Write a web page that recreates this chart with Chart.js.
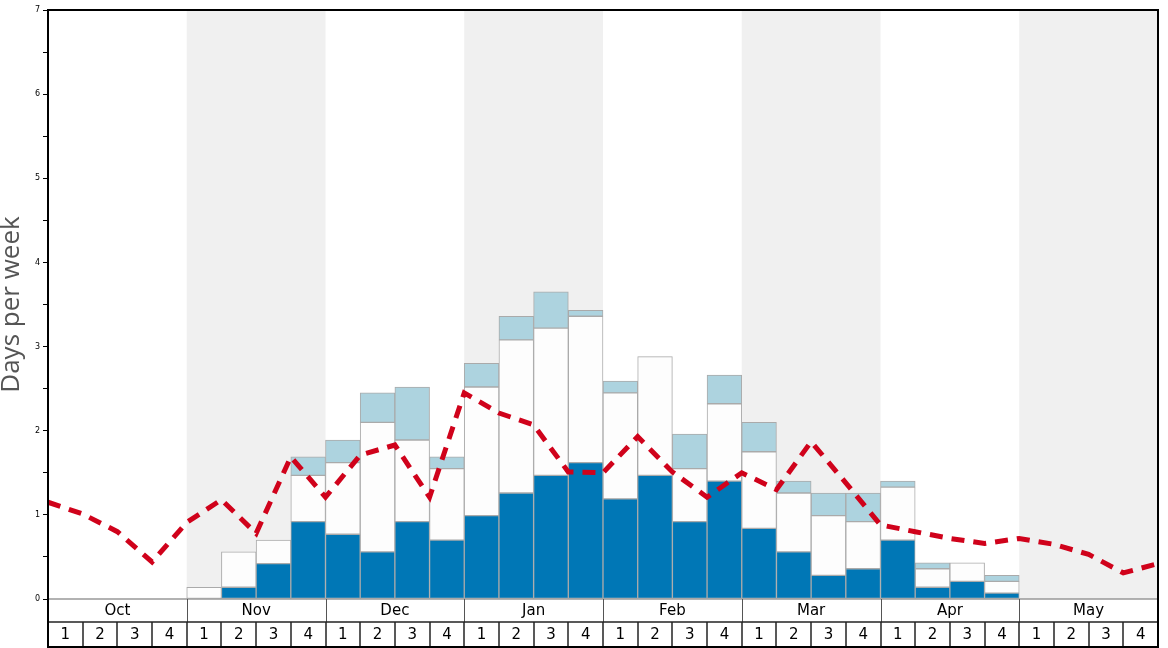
<!DOCTYPE html>
<html>
<head>
<meta charset="utf-8">
<script src="https://cdn.jsdelivr.net/npm/chart.js@4.4.1/dist/chart.umd.min.js"></script>
<style>
  html, body { margin: 0; padding: 0; background: #fff; }
  #wrap { width: 1168px; height: 648px; }
</style>
</head>
<body>
<div id="wrap"><canvas id="chart"></canvas></div>
<script>
const months = ['Oct', 'Nov', 'Dec', 'Jan', 'Feb', 'Mar', 'Apr', 'May'];
const weekLabels = ['1', '2', '3', '4'];

// stacked segments per week (Oct wk1 .. May wk4)
const deepDays = [0, 0, 0, 0, 0, 0.14, 0.42, 0.92, 0.77, 0.56, 0.92, 0.70, 0.99, 1.26, 1.47, 1.62,
  1.19, 1.47, 0.92, 1.40, 0.84, 0.56, 0.28, 0.36, 0.70, 0.14, 0.21, 0.07, 0, 0, 0, 0];
const midDays = [0, 0, 0, 0, 0.14, 0.42, 0.28, 0.55, 0.85, 1.54, 0.97, 0.85, 1.53, 1.82, 1.75, 1.74,
  1.26, 1.41, 0.63, 0.92, 0.91, 0.70, 0.71, 0.56, 0.63, 0.22, 0.22, 0.14, 0, 0, 0, 0];
const lightDays = [0, 0, 0, 0, 0, 0, 0, 0.22, 0.27, 0.35, 0.63, 0.14, 0.28, 0.28, 0.43, 0.07,
  0.14, 0, 0.41, 0.34, 0.35, 0.14, 0.27, 0.34, 0.07, 0.07, 0, 0.07, 0, 0, 0, 0];

// dashed average line, one point per week boundary
const avgDays = [1.15, 1.01, 0.80, 0.44, 0.91, 1.18, 0.78, 1.69, 1.21, 1.71, 1.83, 1.21, 2.45,
  2.21, 2.07, 1.51, 1.50, 1.93, 1.51, 1.21, 1.50, 1.30, 1.87, 1.38, 0.88, 0.80, 0.72, 0.66,
  0.72, 0.65, 0.53, 0.31, 0.42];

const FONT = 'DejaVu Sans';
Chart.defaults.font.family = FONT;

const barPts = arr => arr.map((v, i) => ({ x: i + 0.5, y: v }));

const frame = {
  id: 'frame',
  beforeDatasetsDraw(chart) {
    const { ctx, chartArea: a, scales: { x } } = chart;
    ctx.save();
    ctx.fillStyle = '#f0f0f0';
    months.forEach((m, i) => {
      if (i % 2 === 1) {
        const x0 = x.getPixelForValue(i * 4), x1 = x.getPixelForValue(i * 4 + 4);
        ctx.fillRect(x0, a.top, x1 - x0, a.bottom - a.top);
      }
    });
    ctx.restore();
  },
  afterDraw(chart) {
    const { ctx, chartArea: a, scales: { x } } = chart;
    const y0 = a.bottom, y1 = y0 + 23, y2 = y1 + 25;
    const line = (xa, ya, xb, yb) => { ctx.beginPath(); ctx.moveTo(xa, ya); ctx.lineTo(xb, yb); ctx.stroke(); };
    ctx.save();
    ctx.fillStyle = '#fff';
    ctx.fillRect(a.left, y0 + 1, a.right - a.left, y2 - y0);
    ctx.strokeStyle = '#999';
    ctx.lineWidth = 1.5;
    line(a.left, y0, a.right, y0);
    ctx.strokeStyle = '#555';
    ctx.lineWidth = 1;
    for (let i = 1; i < months.length; i++) {
      const px = Math.round(x.getPixelForValue(i * 4)) + 0.5;
      line(px, y0, px, y1);
    }
    ctx.strokeStyle = '#222';
    ctx.lineWidth = 1.5;
    for (let i = 1; i < months.length * 4; i++) {
      const px = Math.round(x.getPixelForValue(i));
      line(px, y1, px, y2);
    }
    line(a.left, y1, a.right, y1);
    ctx.fillStyle = '#000';
    ctx.font = '15px "' + FONT + '"';
    ctx.textAlign = 'center';
    ctx.textBaseline = 'middle';
    months.forEach((m, i) => {
      ctx.fillText(m, x.getPixelForValue(i * 4 + 2), (y0 + y1) / 2 + 1);
      weekLabels.forEach((w, j) => {
        ctx.fillText(w, x.getPixelForValue(i * 4 + j + 0.5), (y1 + y2) / 2 + 1);
      });
    });
    ctx.strokeStyle = '#000';
    ctx.lineWidth = 2;
    ctx.strokeRect(a.left, a.top, a.right - a.left, y2 - a.top);
    ctx.restore();
  }
};

const barStyle = {
  type: 'bar',
  stack: 'snow',
  order: 1,
  borderColor: '#aaaaaa',
  borderWidth: 1,
  borderSkipped: false,
  barPercentage: 1,
  categoryPercentage: 1
};

new Chart(document.getElementById('chart'), {
  data: {
    datasets: [
      { ...barStyle, label: 'deep', data: barPts(deepDays), backgroundColor: '#0077b6' },
      { ...barStyle, label: 'mid', data: barPts(midDays), backgroundColor: '#fdfdfd' },
      { ...barStyle, label: 'light', data: barPts(lightDays), backgroundColor: '#add3df' },
      {
        type: 'line',
        label: 'average',
        stack: 'avg',
        order: 0,
        data: avgDays.map((v, i) => ({ x: i, y: v })),
        borderColor: '#d0021b',
        borderWidth: 5,
        borderDash: [13, 9],
        pointRadius: 0,
        tension: 0,
        fill: false
      }
    ]
  },
  options: {
    responsive: true,
    maintainAspectRatio: false,
    animation: false,
    layout: { padding: { top: 10, right: 10, bottom: 49, left: 0 } },
    plugins: { legend: { display: false }, tooltip: { enabled: false } },
    scales: {
      x: { type: 'linear', min: 0, max: 32, offset: false, stacked: true, display: false },
      y: {
        stacked: true,
        min: 0,
        max: 7,
        afterFit(s) { s.width = 48; },
        ticks: {
          stepSize: 0.5,
          autoSkip: false,
          padding: 3,
          color: '#000',
          font: { size: 8 },
          callback: v => Number.isInteger(v) ? v : ''
        },
        grid: { drawOnChartArea: false, tickLength: 5, color: '#000' },
        border: { color: '#000', width: 2 },
        title: {
          display: true,
          text: 'Days per week',
          color: '#555',
          font: { size: 26, family: 'Open Sans' },
          padding: { top: -4, bottom: 0 }
        }
      }
    }
  },
  plugins: [frame]
});
</script>
</body>
</html>
